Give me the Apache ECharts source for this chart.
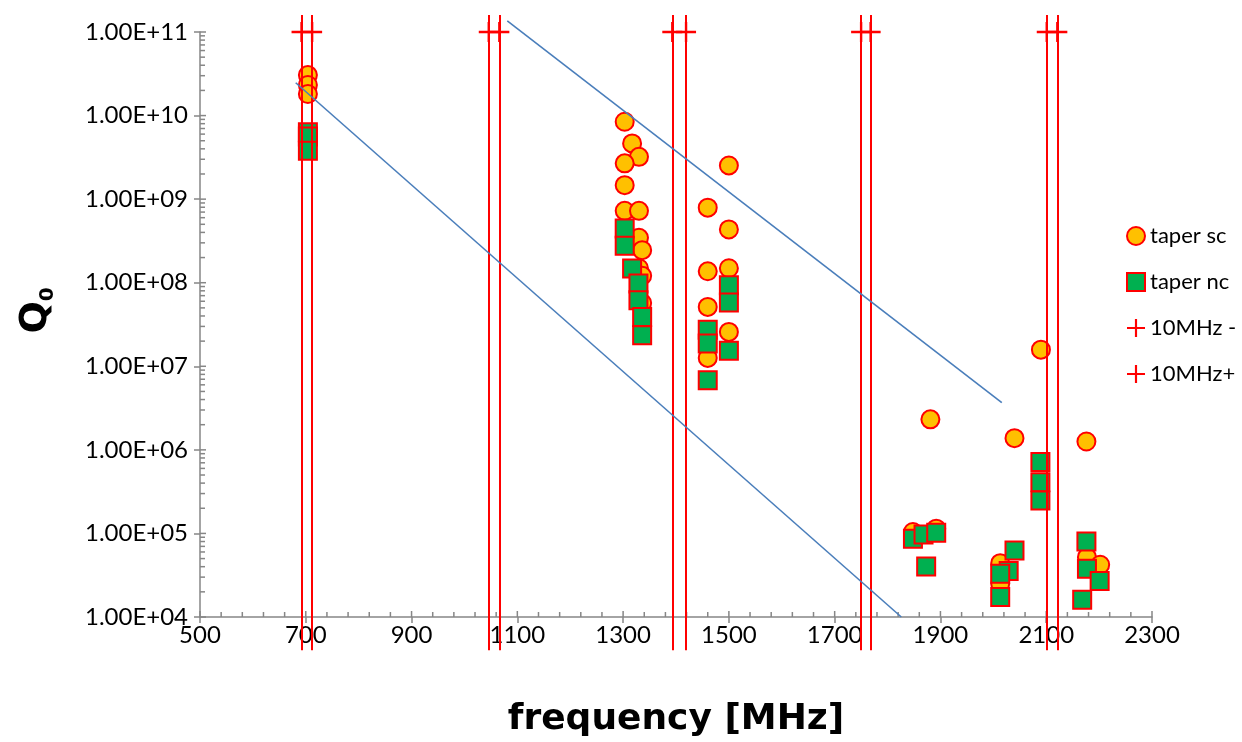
<!DOCTYPE html>
<html>
<head>
<meta charset="utf-8">
<script src="https://cdn.jsdelivr.net/npm/echarts@6/dist/echarts.min.js"></script>
<style>
  html, body { margin: 0; padding: 0; background: #fff; }
  #chart { width: 1242px; height: 742px; }
</style>
</head>
<body>
<div id="chart"></div>
<script>
// taper sc (circles)
const scFreq = [704, 704, 704,
  1303, 1317, 1330, 1303, 1303, 1303, 1330, 1330, 1336, 1330, 1336, 1336,
  1500, 1460, 1500, 1460, 1500, 1460, 1500, 1460,
  1881, 2040, 2090, 2176, 1848, 1892, 2013, 2013, 2177, 2202]
const scQ = [3.05e10, 2.32e10, 1.81e10,
  8.43e9, 4.64e9, 3.21e9, 2.68e9, 1.47e9, 7.24e8, 7.24e8, 3.44e8, 2.45e8, 1.49e8, 1.21e8, 5.7e7,
  2.53e9, 7.91e8, 4.34e8, 1.37e8, 1.49e8, 5.13e7, 2.58e7, 1.26e7,
  2.32e6, 1.38e6, 1.58e7, 1.26e6, 1.04e5, 1.14e5, 4.41e4, 2.5e4, 5.2e4, 4.22e4]

// taper nc (squares)
const ncFreq = [704, 704, 704,
  1303, 1303, 1317, 1329, 1329, 1336, 1336,
  1500, 1500, 1460, 1460, 1500, 1460,
  2089, 2089, 2089, 1848, 1868, 1892, 1873, 2040, 2029, 2013, 2013, 2176, 2177, 2201, 2168]
const ncQ = [6.3e9, 5.6e9, 3.8e9,
  4.46e8, 2.76e8, 1.48e8, 9.78e7, 6.17e7, 3.89e7, 2.35e7,
  9.33e7, 5.81e7, 2.74e7, 1.87e7, 1.53e7, 6.8e6,
  7.14e5, 4.11e5, 2.48e5, 8.65e4, 9.7e4, 1.02e5, 4.03e4, 6.25e4, 3.54e4, 3.29e4, 1.73e4, 8.02e4, 3.78e4, 2.69e4, 1.61e4]

// 10 MHz markers and their error bars
const minusFreq = [692, 1046, 1393, 1750, 2101]
const plusFreq = [712, 1066, 1419, 1768, 2121]
const markerQ = 1e11
const barTop = 1.6e11
const barBottom = 4e3

// trend lines
const trendLow = [[681, 2.47e10], [1826, 1e4]]
const trendHigh = [[1081, 1.36e11], [2016, 3.67e6]]

// axis ticks
const xTicks = [500, 700, 900, 1100, 1300, 1500, 1700, 1900, 2100, 2300]
const xMinorStep = 40
const yDecades = [4, 5, 6, 7, 8, 9, 10, 11]
const yMinorMult = [2, 3, 4, 5, 6, 7, 8, 9]

const axisGray = '#868686'
const labelFont = 'Lato'
const titleFont = 'DejaVu Sans'
const plusPath = 'path://M9,0h2.4v8.8h8.8v2.4h-8.8v8.8h-2.4v-8.8h-8.8v-2.4h8.8z'

const zip = (xs, ys) => xs.map((x, i) => [x, ys[i]])

// minor ticks (and the inner half of major ticks) drawn through the axis scales
const yInner = []
yDecades.forEach(e => {
  yInner.push([xTicks[0], Math.pow(10, e), 6])
  if (e < yDecades[yDecades.length - 1]) {
    yMinorMult.forEach(m => yInner.push([xTicks[0], m * Math.pow(10, e), 5]))
  }
})
const xInner = []
for (let f = xTicks[0]; f <= xTicks[xTicks.length - 1]; f += xMinorStep) {
  xInner.push([f, Math.pow(10, yDecades[0]), xTicks.includes(f) ? 6 : 5])
}

function fmtSci(v) {
  const e = Math.round(Math.log10(v))
  const m = (v / Math.pow(10, e)).toFixed(2)
  return m + 'E+' + (e < 10 ? '0' : '') + e
}

const chart = echarts.init(document.getElementById('chart'))

const option = {
  animation: false,
  backgroundColor: '#fff',
  grid: {
    left: 200,
    right: 90,
    top: 32,
    bottom: 125,
    outerBoundsMode: 'none',
  },
  legend: {
    orient: 'vertical',
    left: 1121,
    top: 220,
    itemWidth: 18,
    itemHeight: 18,
    itemGap: 24,
    textStyle: {
      fontFamily: labelFont,
      fontSize: 22,
      color: '#000',
    },
    data: ['taper sc', 'taper nc', '10MHz -', '10MHz+'],
  },
  xAxis: {
    type: 'value',
    min: 500,
    max: 2300,
    interval: 200,
    axisLine: {
      onZero: false,
      lineStyle: { color: axisGray, width: 1.5 },
    },
    axisTick: {
      length: 6,
      lineStyle: { color: axisGray, width: 1.5 },
    },
    splitLine: { show: false },
    axisLabel: {
      fontFamily: labelFont,
      fontSize: 24,
      color: '#000',
      margin: 6,
      formatter: v => String(v),
    },
    name: 'frequency [MHz]',
    nameLocation: 'middle',
    nameGap: 85,
    nameTextStyle: {
      fontFamily: titleFont,
      fontWeight: 'bold',
      fontSize: 36,
      color: '#000',
    },
  },
  yAxis: {
    type: 'log',
    logBase: 10,
    min: 1e4,
    max: 1e11,
    splitNumber: 7,
    axisLine: {
      show: true,
      lineStyle: { color: axisGray, width: 1.5 },
    },
    axisTick: {
      show: true,
      length: 6,
      lineStyle: { color: axisGray, width: 1.5 },
    },
    splitLine: { show: false },
    axisLabel: {
      fontFamily: labelFont,
      fontSize: 24,
      color: '#000',
      margin: 12,
      formatter: fmtSci,
    },
    name: '{q|Q}{s|0}',
    nameLocation: 'middle',
    nameGap: 142,
    nameRotate: 90,
    nameTextStyle: {
      padding: [0, 0, 0, 28],
      rich: {
        q: { fontFamily: titleFont, fontWeight: 'bold', fontSize: 38, color: '#000', lineHeight: 44, verticalAlign: 'middle' },
        s: { fontFamily: titleFont, fontWeight: 'bold', fontSize: 20, color: '#000', lineHeight: 44, verticalAlign: 'bottom' },
      },
    },
  },
  series: [
    {
      name: 'taper sc',
      type: 'scatter',
      data: zip(scFreq, scQ),
      symbol: 'circle',
      symbolSize: 18,
      itemStyle: { color: '#FFC000', borderColor: '#FF0000', borderWidth: 2, opacity: 1 },
      z: 2,
    },
    {
      name: 'taper nc',
      type: 'scatter',
      data: zip(ncFreq, ncQ),
      symbol: 'rect',
      symbolSize: 18,
      itemStyle: { color: '#00B050', borderColor: '#FF0000', borderWidth: 2, opacity: 1 },
      z: 3,
    },
    {
      name: '10MHz -',
      type: 'scatter',
      data: minusFreq.map(f => [f, markerQ]),
      symbol: plusPath,
      symbolSize: 20,
      itemStyle: { color: '#FF0000', opacity: 1 },
      z: 4,
    },
    {
      name: '10MHz+',
      type: 'scatter',
      data: plusFreq.map(f => [f, markerQ]),
      symbol: plusPath,
      symbolSize: 20,
      itemStyle: { color: '#FF0000', opacity: 1 },
      z: 4,
    },
    {
      name: 'error bars',
      type: 'lines',
      coordinateSystem: 'cartesian2d',
      clip: false,
      silent: true,
      data: minusFreq.concat(plusFreq).map(f => ({ coords: [[f, barTop], [f, barBottom]] })),
      lineStyle: { color: '#FF0000', width: 2, opacity: 1 },
      z: 5,
    },
    {
      name: 'trend low',
      type: 'line',
      data: trendLow,
      showSymbol: false,
      clip: false,
      silent: true,
      lineStyle: { color: '#4A7EBB', width: 1.6 },
      z: 5,
    },
    {
      name: 'trend high',
      type: 'line',
      data: trendHigh,
      showSymbol: false,
      clip: false,
      silent: true,
      lineStyle: { color: '#4A7EBB', width: 1.6 },
      z: 5,
    },
    {
      name: 'y minor ticks',
      type: 'custom',
      silent: true,
      data: yInner,
      renderItem: (params, api) => {
        const p = api.coord([api.value(0), api.value(1)])
        return {
          type: 'line',
          shape: { x1: p[0], y1: p[1], x2: p[0] + api.value(2), y2: p[1] },
          style: { stroke: axisGray, lineWidth: 1.5 },
        }
      },
      z: 1,
    },
    {
      name: 'x minor ticks',
      type: 'custom',
      silent: true,
      data: xInner,
      renderItem: (params, api) => {
        const p = api.coord([api.value(0), api.value(1)])
        return {
          type: 'line',
          shape: { x1: p[0], y1: p[1], x2: p[0], y2: p[1] - api.value(2) },
          style: { stroke: axisGray, lineWidth: 1.5 },
        }
      },
      z: 1,
    },
  ],
}

chart.setOption(option)
</script>
</body>
</html>
